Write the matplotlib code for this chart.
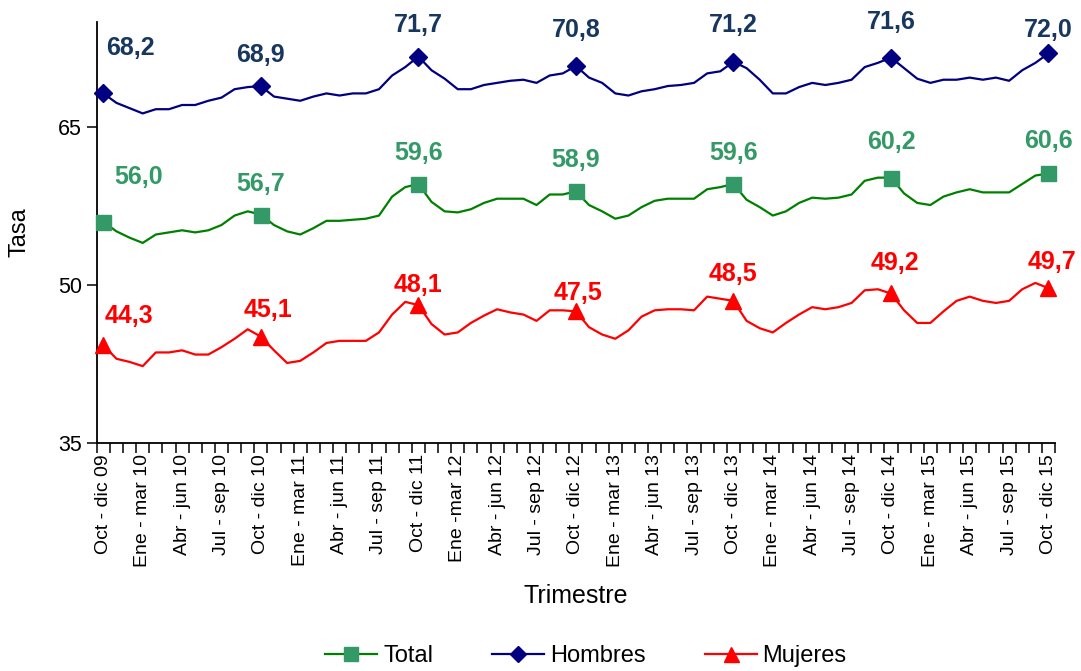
import numpy as np
import matplotlib.pyplot as plt

plt.rcParams['font.family'] = ['Liberation Sans', 'DejaVu Sans']

# etiquetas de trimestre (cada 3 meses)
etiquetas = ["Oct - dic 09", "Ene - mar 10", "Abr - jun 10", "Jul - sep 10",
             "Oct - dic 10", "Ene - mar 11", "Abr - jun 11", "Jul - sep 11",
             "Oct - dic 11", "Ene -mar 12", "Abr - jun 12", "Jul - sep 12",
             "Oct - dic 12", "Ene - mar 13", "Abr - jun 13", "Jul - sep 13",
             "Oct - dic 13", "Ene - mar 14", "Abr - jun 14", "Jul - sep 14",
             "Oct - dic 14", "Ene - mar 15", "Abr - jun 15", "Jul - sep 15",
             "Oct - dic 15"]

# trimestres moviles
hombres = [68.2, 67.3, 66.8, 66.3, 66.7, 66.7, 67.1, 67.1, 67.5, 67.8, 68.6, 68.8, 68.9,
           67.9, 67.7, 67.5, 67.9, 68.2, 68.0, 68.2, 68.2, 68.6, 69.9, 70.7, 71.7,
           70.4, 69.6, 68.6, 68.6, 69.0, 69.2, 69.4, 69.5, 69.2, 69.9, 70.1, 70.8,
           69.7, 69.2, 68.2, 68.0, 68.4, 68.6, 68.9, 69.0, 69.2, 70.1, 70.3, 71.2,
           70.6, 69.5, 68.2, 68.2, 68.8, 69.2, 69.0, 69.2, 69.5, 70.7, 71.1, 71.6,
           70.6, 69.6, 69.2, 69.5, 69.5, 69.7, 69.5, 69.7, 69.4, 70.4, 71.1, 72.0]

total = [56.0, 55.1, 54.5, 54.0, 54.8, 55.0, 55.2, 55.0, 55.2, 55.7, 56.6, 57.0, 56.7,
         55.7, 55.1, 54.8, 55.4, 56.1, 56.1, 56.2, 56.3, 56.6, 58.4, 59.3, 59.6,
         57.9, 57.0, 56.9, 57.2, 57.8, 58.2, 58.2, 58.2, 57.6, 58.6, 58.6, 58.9,
         57.6, 57.0, 56.3, 56.6, 57.4, 58.0, 58.2, 58.2, 58.2, 59.1, 59.3, 59.6,
         58.1, 57.4, 56.6, 57.0, 57.8, 58.3, 58.2, 58.3, 58.6, 59.9, 60.2, 60.2,
         58.7, 57.8, 57.6, 58.4, 58.8, 59.1, 58.8, 58.8, 58.8, 59.6, 60.4, 60.6]

mujeres = [44.3, 43.0, 42.7, 42.3, 43.6, 43.6, 43.8, 43.4, 43.4, 44.1, 44.9, 45.8, 45.1,
           43.8, 42.6, 42.8, 43.6, 44.5, 44.7, 44.7, 44.7, 45.5, 47.2, 48.4, 48.1,
           46.3, 45.3, 45.5, 46.4, 47.1, 47.7, 47.4, 47.2, 46.6, 47.6, 47.6, 47.5,
           46.0, 45.3, 44.9, 45.7, 47.0, 47.6, 47.7, 47.7, 47.6, 48.9, 48.7, 48.5,
           46.6, 45.9, 45.5, 46.4, 47.2, 47.9, 47.7, 47.9, 48.3, 49.5, 49.6, 49.2,
           47.6, 46.4, 46.4, 47.5, 48.5, 48.9, 48.5, 48.3, 48.5, 49.6, 50.2, 49.7]

x = np.arange(len(total))
marcas = list(range(0, len(total), 12))

fig = plt.figure(figsize=(10.81, 6.71), dpi=100)
ax = fig.add_axes([0.0895, 0.3398, 0.8865, 0.6277])

px = 72 / 100.0  # px -> pt

series = [
    ("Total", total, '#008000', '#339966', '#339966', 's', 10.8,
     [(35, 45), (0, 31), (0, 31), (0, 31), (0, 31), (0, 36), (0, 32)]),
    ("Hombres", hombres, '#000080', '#000080', '#17375E', 'D', 8.8,
     [(27, 45), (0, 31), (0, 32), (0, 36), (0, 37), (0, 36), (0, 23)]),
    ("Mujeres", mujeres, '#FF0000', '#FF0000', '#FF0000', '^', 12,
     [(26, 29), (7, 27), (0, 20), (2, 18), (0, 27), (4, 30), (4, 26)]),
]

for nombre, y, c_linea, c_marca, c_texto, m, ms, offs in series:
    ax.plot(x, y, color=c_linea, lw=1.6, marker=m, markevery=marcas,
            markersize=ms, markerfacecolor=c_marca, markeredgecolor=c_marca,
            label=nombre, clip_on=False, zorder=3)
    for k, i in enumerate(marcas):
        ax.annotate(f"{y[i]:.1f}".replace('.', ','), (x[i], y[i]),
                    xytext=(offs[k][0] * px, offs[k][1] * px), textcoords='offset points',
                    ha='center', va='center', fontsize=18, fontweight='bold',
                    color=c_texto, annotation_clip=False)

ax.set_xlim(-0.5, len(total) - 0.5)
ax.set_ylim(35, 75)
ax.set_yticks([35, 50, 65])
ax.tick_params(axis='y', labelsize=15.5, length=7, width=1.1, direction='out')

ax.set_xticks(x[::3])
ax.set_xticklabels(etiquetas, rotation=90, fontsize=14)
ax.set_xticks(np.arange(-0.5, len(total), 1), minor=True)
ax.tick_params(axis='x', which='major', length=0, pad=8)
ax.tick_params(axis='x', which='minor', length=7, width=1.1, direction='out')

for s in ['top', 'right']:
    ax.spines[s].set_visible(False)
for s in ['left', 'bottom']:
    ax.spines[s].set_linewidth(1.3)
    ax.spines[s].set_color('black')

ax.set_ylabel("Tasa", fontsize=17, labelpad=20)
ax.set_xlabel("Trimestre", fontsize=18, labelpad=12)

fig.legend(loc='center', bbox_to_anchor=(586 / 1081, 1 - 656 / 671), ncol=3,
           frameon=False, fontsize=17, handlelength=2.2, columnspacing=2.5,
           handletextpad=0.25, markerscale=0.9)

fig.savefig("out.png", dpi=100)
